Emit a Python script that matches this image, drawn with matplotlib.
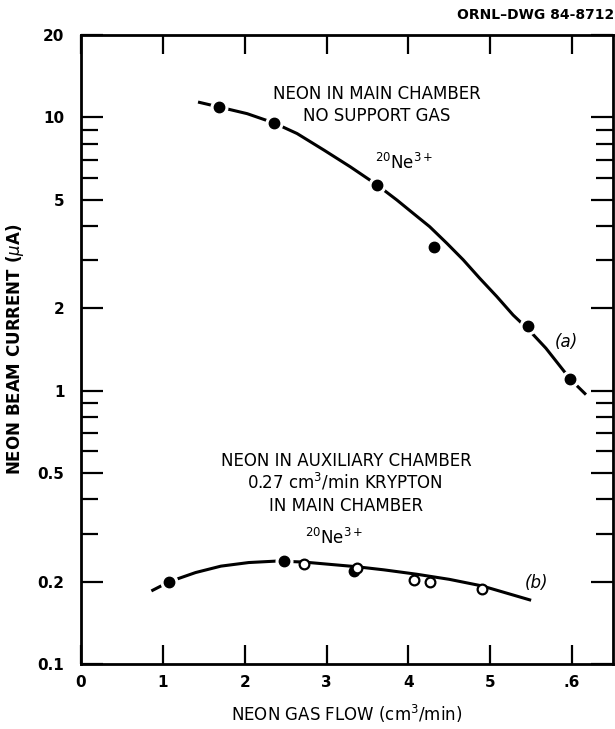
""" Neon beam current vs neon gas flow (ORNL-DWG 84-8712) """

###########
# Imports #
###########
import matplotlib
matplotlib.use("Agg")
import matplotlib.pyplot as plt

plt.rcParams['font.family'] = ['DejaVu Sans']
plt.rcParams['mathtext.fontset'] = 'dejavusans'


########
# DATA #
########
# (a) neon in main chamber, no support gas
flow_a = [1.69, 2.36, 3.62, 4.31, 5.46, 5.98]
current_a = [10.9, 9.53, 5.65, 3.36, 1.72, 1.10]

# hand-drawn curve through (a)
curve_a_x = [1.43, 1.69, 2.03, 2.36, 2.64, 2.97, 3.29, 3.62, 3.86, 4.06,
             4.26, 4.47, 4.67, 4.87, 5.08, 5.28, 5.47, 5.68, 5.98, 6.17]
curve_a_y = [11.37, 10.90, 10.31, 9.53, 8.72, 7.58, 6.59, 5.65, 4.98, 4.45,
             3.98, 3.46, 3.01, 2.58, 2.21, 1.89, 1.67, 1.43, 1.10, 0.967]

# (b) neon in auxiliary chamber, krypton in main chamber
flow_b_filled = [1.08, 2.48, 3.34]
current_b_filled = [0.200, 0.238, 0.219]
flow_b_open = [2.72, 3.37, 4.07, 4.27, 4.90]
current_b_open = [0.232, 0.2235, 0.2026, 0.1996, 0.188]

curve_b_x = [0.86, 1.08, 1.40, 1.71, 2.05, 2.40, 2.72, 3.00, 3.36, 3.70,
             4.10, 4.50, 4.90, 5.50]
curve_b_y = [0.185, 0.200, 0.216, 0.228, 0.235, 0.238, 0.236, 0.232, 0.227,
             0.221, 0.213, 0.204, 0.193, 0.171]

# axis ticks
x_ticks = [0, 1, 2, 3, 4, 5, 6]
x_labels = ['0', '1', '2', '3', '4', '5', '.6']
y_major = [0.1, 0.2, 0.5, 1, 2, 5, 10, 20]
y_labels = ['0.1', '0.2', '0.5', '1', '2', '5', '10', '20']
y_minor = [0.3, 0.4, 0.6, 0.7, 0.8, 0.9, 3, 4, 6, 7, 8, 9]


########
# PLOT #
########
fig = plt.figure(figsize=(6.15, 7.29), dpi=100)
ax = fig.add_axes([0.1317, 0.0892, 0.865, 0.8628])

ax.set_yscale('log')
ax.set_xlim(0, 6.5)
ax.set_ylim(0.1, 20)

# curves
ax.plot(curve_a_x, curve_a_y, color='black', lw=2.2, zorder=2,
        solid_joinstyle='round', solid_capstyle='butt')
ax.plot(curve_b_x, curve_b_y, color='black', lw=2.2, zorder=2,
        solid_joinstyle='round', solid_capstyle='butt')

# white halo so the line breaks at each point, like the drawing
ax.plot(flow_a, current_a, 'o', color='white', ms=12, zorder=3)
ax.plot(flow_b_filled[:2], current_b_filled[:2], 'o', color='white', ms=12,
        zorder=3)

ax.plot(flow_a, current_a, 'o', color='black', ms=7.5, zorder=4)
ax.plot(flow_b_filled, current_b_filled, 'o', color='black', ms=7.5, zorder=4)
ax.plot(flow_b_open, current_b_open, 'o', mfc='white', mec='black', mew=1.6,
        ms=7, zorder=5)

# annotations
ax.text(3.61, 12.2, 'NEON IN MAIN CHAMBER', ha='center', va='center',
        fontsize=12)
ax.text(3.61, 10.15, 'NO SUPPORT GAS', ha='center', va='center', fontsize=12)
ax.text(3.95, 6.8, r'${}^{20}$Ne$^{3+}$', ha='center', va='center',
        fontsize=12)
ax.text(5.93, 1.51, '(a)', ha='center', va='center', fontsize=12,
        style='italic')

ax.text(3.24, 0.551, 'NEON IN AUXILIARY CHAMBER', ha='center', va='center',
        fontsize=12)
ax.text(3.22, 0.462, r'0.27 cm$^3$/min KRYPTON', ha='center', va='center',
        fontsize=12)
ax.text(3.24, 0.377, 'IN MAIN CHAMBER', ha='center', va='center', fontsize=12)
ax.text(3.10, 0.288, r'${}^{20}$Ne$^{3+}$', ha='center', va='center',
        fontsize=12)
ax.text(5.56, 0.198, '(b)', ha='center', va='center', fontsize=12,
        style='italic')

fig.text(0.998, 0.979, 'ORNL\u2013DWG 84-8712', ha='right', va='center',
         fontsize=10, fontweight='bold')

# ticks
ax.set_xticks(x_ticks)
ax.set_xticklabels(x_labels, fontweight='bold', fontsize=11)
ax.set_yticks(y_major)
ax.set_yticklabels(y_labels, fontweight='bold', fontsize=11)
ax.set_yticks(y_minor, minor=True)
ax.set_yticklabels([], minor=True)
ax.tick_params(which='both', direction='in', top=True, right=True, width=1.6,
               color='black')
ax.tick_params(axis='x', which='major', length=14, pad=8)
ax.tick_params(axis='y', which='major', length=15.5, pad=12)
ax.tick_params(axis='y', which='minor', length=12.5)

for spine in ax.spines.values():
    spine.set_linewidth(2)

ax.set_xlabel(r'NEON GAS FLOW (cm$^3$/min)', fontsize=12, labelpad=9)
ax.set_ylabel(r'NEON BEAM CURRENT ($\mu$A)', fontsize=12, fontweight='bold',
              labelpad=8)

plt.savefig('out.png', dpi=100)
